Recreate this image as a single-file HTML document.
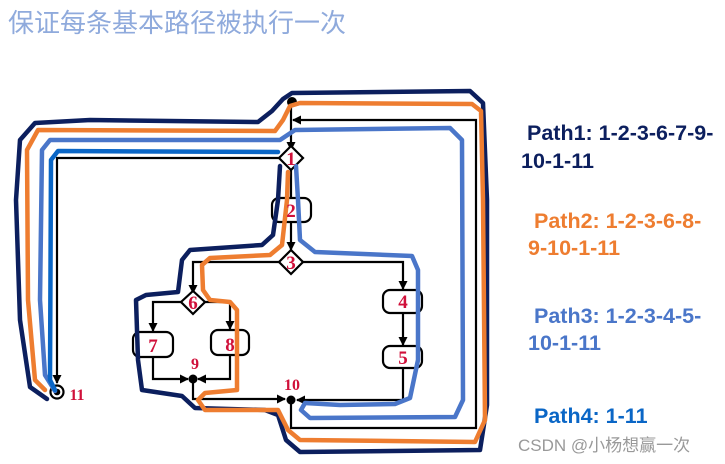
<!DOCTYPE html>
<html><head><meta charset="utf-8"><style>
html,body{margin:0;padding:0;background:#fff;width:725px;height:464px;overflow:hidden}
svg{position:absolute;left:0;top:0}
.t{font-family:"Liberation Sans",sans-serif;font-weight:bold;font-size:21.5px}
.n{font-family:"Liberation Serif",serif;font-weight:bold;fill:#d0103a}
</style></head><body>
<svg width="725" height="464" viewBox="0 0 725 464" xmlns="http://www.w3.org/2000/svg">
<defs><marker id="a" markerWidth="9" markerHeight="9" refX="8" refY="4.5" orient="auto" markerUnits="userSpaceOnUse"><path d="M0,0 L9,4.5 L0,9 z" fill="#000"/></marker></defs>
<text x="8" y="32" font-family="'Liberation Sans','Noto Sans CJK SC',sans-serif" font-size="26" fill="#8faadc">保证每条基本路径被执行一次</text>

<g fill="none" stroke="#000" stroke-width="2.2">
<path d="M291,103 V150" marker-end="url(#a)"/>
<path d="M291,400 V428 H476 V120 H293" marker-end="url(#a)"/>
<path d="M279,158 H57 V383" marker-end="url(#a)"/>
<path d="M291,170 V198"/>
<path d="M291,222 V250" marker-end="url(#a)"/>
<path d="M279,262 H193 V293" marker-end="url(#a)"/>
<path d="M303,262 H403 V289" marker-end="url(#a)"/>
<path d="M403,313 V345" marker-end="url(#a)"/>
<path d="M403,368 V400 H297" marker-end="url(#a)"/>
<path d="M181,302 H153 V331" marker-end="url(#a)"/>
<path d="M205,302 H230 V329" marker-end="url(#a)"/>
<path d="M153,357 V379 H188" marker-end="url(#a)"/>
<path d="M230,355 V379 H198" marker-end="url(#a)"/>
<path d="M193,379 V399 H285" marker-end="url(#a)"/>
<path d="M279,158 L291,146 L303,158 L291,170 Z" fill="#fff"/>
<path d="M279,262 L291,250 L303,262 L291,274 Z" fill="#fff"/>
<path d="M181,302 L193,291 L205,302 L193,314 Z" fill="#fff"/>
<rect x="272" y="198" width="39" height="24" rx="7"/>
<rect x="133" y="332" width="40" height="25" rx="7"/>
<rect x="211" y="330" width="38" height="25" rx="7"/>
<rect x="383" y="290" width="39" height="23" rx="7"/>
<rect x="383" y="346" width="39" height="22" rx="7"/>
<circle cx="57" cy="392" r="6.5" fill="#fff" stroke-width="2.2"/>
</g>
<circle cx="57" cy="392" r="3.3" fill="#000"/>
<circle cx="193" cy="379" r="4.5" fill="#000"/>
<circle cx="291" cy="400" r="4.5" fill="#000"/>
<circle cx="292" cy="102" r="5" fill="#000"/>

<g fill="none" stroke-width="4.5" stroke-linejoin="round" stroke-linecap="round">
<path stroke="#0c1f5e" d="M47,399 L30,387 L20,320 L16,200 L20,140 L35,123 L90,120 L258,122 L272,111 L283,99 L292,93 L470,91 L483,103 L487,200 L487,405 L480,450 L300,452 L286,440 L278,415 L265,410 L195,408 L182,396 L142,390 L138,360 L136,300 L146,295 L178,292 L182,260 L190,250 L262,245 L273,235 L278,200 L280,166"/>
<path stroke="#ee7d30" d="M45,390 L35,380 L28,300 L27,150 L38,130 L275,131 L283,120 L290,106 L300,103 L472,104 L481,111 L483,200 L485,420 L475,442 L300,440 L288,430 L278,410 L205,410 L198,400 L205,393 L237,390 L237,310 L230,302 L210,300 L203,290 L202,265 L210,258 L270,255 L282,245 L287,200 L288,172"/>
<path stroke="#4a76c9" d="M55,391 L45,375 L40,300 L42,150 L50,140 L280,140 L295,130 L450,128 L462,140 L463,400 L455,417 L310,418 L301,410 L305,403 L340,405 L395,404 L410,398 L418,360 L418,270 L412,256 L315,252 L300,240 L298,200 L296,166"/>
<path stroke="#0a66c6" d="M278,152 L58,151 L51,160 L50,380 L55,390"/>
</g>

<g class="n" font-size="19" text-anchor="middle">
<text x="291" y="165">1</text><text x="291" y="217">2</text><text x="291" y="269">3</text>
<text x="403" y="308">4</text><text x="403" y="364">5</text><text x="193" y="309">6</text>
<text x="153" y="352">7</text><text x="230" y="351">8</text>
<text x="195" y="369" font-size="16">9</text><text x="292" y="390" font-size="16">10</text>
<text x="77" y="400" font-size="16">11</text>
</g>

<text class="t" x="527" y="140" fill="#0c1f5e">Path1: 1-2-3-6-7-9-</text>
<text class="t" x="521" y="168" fill="#0c1f5e">10-1-11</text>
<text class="t" x="534" y="228" fill="#ee7d30">Path2: 1-2-3-6-8-</text>
<text class="t" x="528" y="255" fill="#ee7d30">9-10-1-11</text>
<text class="t" x="534" y="323" fill="#4a76c9">Path3: 1-2-3-4-5-</text>
<text class="t" x="528" y="350" fill="#4a76c9">10-1-11</text>
<text class="t" x="534" y="423" fill="#0a66c6">Path4: 1-11</text>
<text x="518" y="451" font-family="'Liberation Sans','Noto Sans CJK SC',sans-serif" font-size="17" fill="#999">CSDN @小杨想赢一次</text>
</svg>
</body></html>
